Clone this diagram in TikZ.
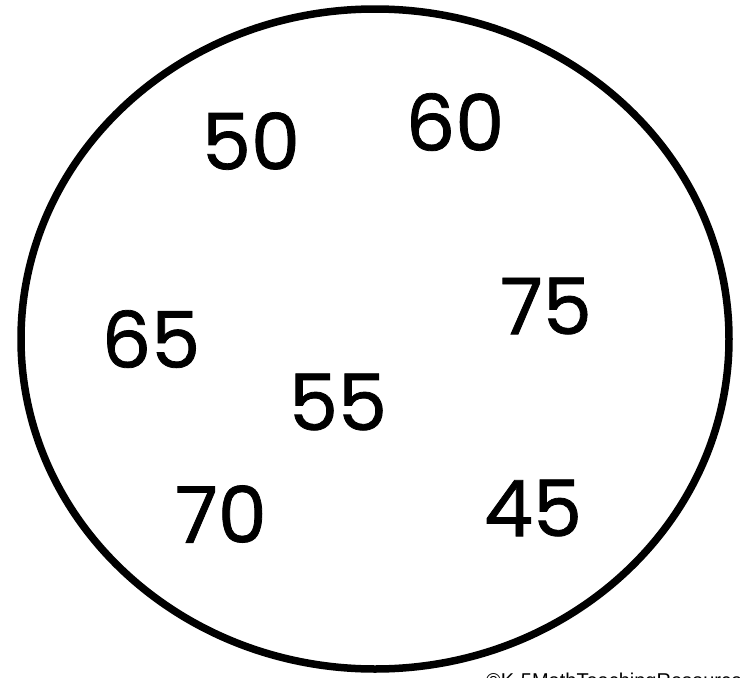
\documentclass[tikz,border=0pt]{standalone}
\usepackage{fontspec}
\newfontfamily\numfont{Poppins}[FakeBold=1]
\newfontfamily\notefont{Liberation Sans}
\begin{document}
\begin{tikzpicture}[x=1pt,y=-1pt,
    num/.style={font=\numfont\fontsize{78}{78}\selectfont,inner sep=0pt}]
  \useasboundingbox (0,0) rectangle (740,678);
  \draw[line width=7.5pt] (375,339) ellipse [x radius=354pt, y radius=330pt];
  \node[num] (n50) at (251,141) {50};
  \node[num] (n60) at (455,122) {60};
  \node[num] (n65) at (151,339) {65};
  \node[num] (n75) at (546,306) {75};
  \node[num] (n55) at (338,402) {55};
  \node[num] (n70) at (221,514) {70};
  \node[num] (n45) at (533,508) {45};
  \node[anchor=base west,inner sep=0pt,font=\notefont\fontsize{20}{20}\selectfont] (note) at (486,687) {©K-5MathTeachingResources.com};
\end{tikzpicture}
\end{document}
